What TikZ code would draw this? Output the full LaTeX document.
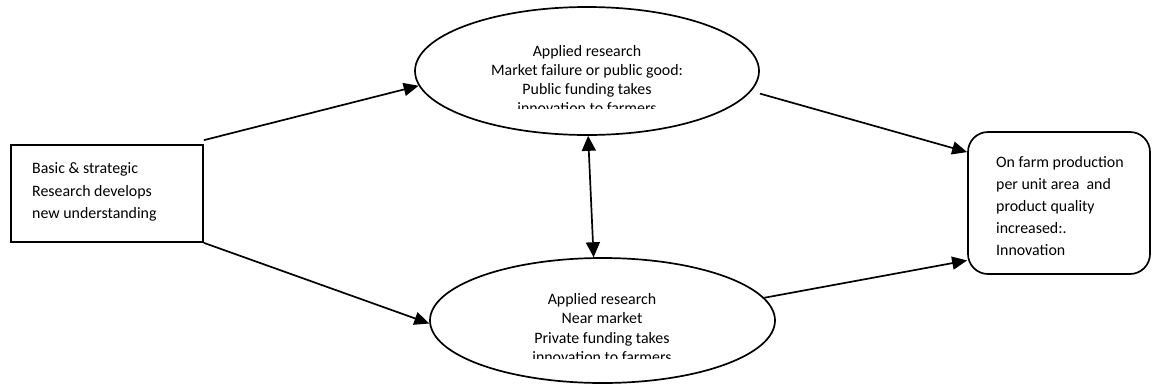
\documentclass[tikz,border=0pt]{standalone}
\usepackage{fontspec}
\setmainfont{Carlito}
\usetikzlibrary{arrows.meta,shapes.geometric}
\begin{document}
\begin{tikzpicture}[x=1bp,y=-1bp,
  every node/.style={font=\fontsize{15.9bp}{19.3bp}\selectfont},
  ln/.style={line width=1.7bp},
  ellip/.style={ln,draw,ellipse,inner sep=0pt,minimum width=344bp,minimum height=128bp},
  etext/.style={align=center,inner sep=0pt},
  boxtext/.style={align=left,inner sep=0pt,anchor=north west,font=\fontsize{15.9bp}{22.5bp}\selectfont},
  arr/.style={ln,-{Triangle[length=15bp,width=13bp]}},
  darr/.style={ln,{Triangle[length=15bp,width=14bp]}-{Triangle[length=15bp,width=14bp]}}]
\useasboundingbox (0,0) rectangle (1152,387);
% left box
\node[ln,draw,rectangle,minimum width=192bp,minimum height=97bp,inner sep=0pt] (basic) at (107,193.5) {};
\node[boxtext] (basictext) at (32,162.5) {Basic \& strategic\\Research develops\\new understanding};
% top ellipse
\node[ellip] (pub) at (587,71) {};
\begin{scope}
\clip (420,10) rectangle (760,108);
\node[etext] (pubtext) at (587,79.5) {Applied research\\Market failure or public good:\\Public funding takes\\innovation to farmers};
\end{scope}
% bottom ellipse
\node[ellip,minimum width=345bp,minimum height=125bp] (near) at (602.5,320.5) {};
\begin{scope}
\clip (440,262) rectangle (770,358);
\node[etext] (neartext) at (602,328) {Applied research\\Near market\\Private funding takes\\innovation to farmers};
\end{scope}
% right box
\node[ln,draw,rectangle,rounded corners=20bp,minimum width=182bp,minimum height=142bp,inner sep=0pt] (farm) at (1059,203) {};
\node[boxtext,font=\fontsize{15.9bp}{22bp}\selectfont] (farmtext) at (996,156) {On farm production\\per unit area\ \ and\\product quality\\increased:.\\Innovation};
% connectors
\draw[arr] (basic.north east) ++(0,-4) coordinate (bs1) -- (pub.185);
\draw[arr] (basic.south east) -- (near.181);
\draw[arr,shorten <=9bp] (pub.353) -- (farm.151);
\draw[arr] (near.8) -- (farm.212);
\draw[darr] (pub.271) -- (near.98);
\end{tikzpicture}
\end{document}
